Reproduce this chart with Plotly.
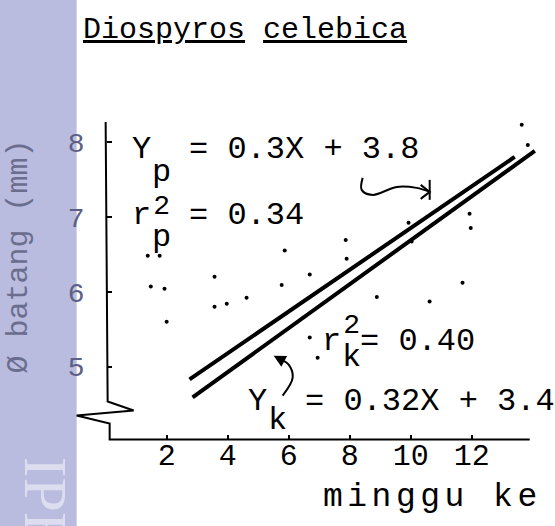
import plotly.graph_objects as go

# ---------------- data ----------------
weeks_x = [1.38, 1.77, 1.48, 1.93, 2.0, 3.57, 3.57, 3.97, 4.62, 5.77, 5.87, 6.69, 6.69,
           6.95, 7.87, 7.9, 8.89, 9.93, 10.03, 10.62, 11.7, 11.93, 11.97, 13.64, 13.84]
diam_y = [6.48, 6.48, 6.07, 6.04, 5.6, 6.2, 5.8, 5.84, 5.92, 6.09, 6.55, 6.23, 5.39,
          5.12, 6.69, 6.44, 5.93, 6.92, 6.67, 5.87, 6.12, 7.04, 6.85, 8.23, 7.96]

fit_p_x = [2.75, 13.41]
fit_p_y = [4.83, 7.80]
fit_k_x = [2.85, 14.07]
fit_k_y = [4.59, 7.88]

x_ticks = [2, 4, 6, 8, 10, 12]
y_ticks = [5, 6, 7, 8]

title_text = "<u>Diospyros</u> <u>celebica</u>"
y_title = "Ø batang (mm)"
x_title = "minggu ke"

# ---------------- layout geometry ----------------
W, H = 555, 526
XR = [-1.3, 14.6]
YR = [3.9, 8.4]
ML, MT = 66.35, 112.0
PW, PH = 484.95, 337.5
MR = W - ML - PW
MB = H - MT - PH
PITCH = 19.2  # Liberation Mono advance at 32px


def paper(px, py):
    return (px - ML) / PW, (MT + PH - py) / PH


def data(px, py):
    return (XR[0] + (px - ML) / PW * (XR[1] - XR[0]),
            YR[1] - (py - MT) / PH * (YR[1] - YR[0]))


def pts(lst):
    d = [data(a, b) for a, b in lst]
    return [p[0] for p in d], [p[1] for p in d]


MONO = "Liberation Mono"
fig = go.Figure()

# broken y axis + x axis line (drawn as decoration)
ax_x, ax_y = pts([(106, 122), (108, 402), (134, 411), (77, 416), (110, 424), (110, 440), (530, 440)])
fig.add_trace(go.Scatter(x=ax_x, y=ax_y, mode="lines", line=dict(color="black", width=2),
                         hoverinfo="skip", showlegend=False))

# regression lines
fig.add_trace(go.Scatter(x=fit_p_x, y=fit_p_y, mode="lines", line=dict(color="black", width=4),
                         showlegend=False))
fig.add_trace(go.Scatter(x=fit_k_x, y=fit_k_y, mode="lines", line=dict(color="black", width=4),
                         showlegend=False))

# scattered observations
fig.add_trace(go.Scatter(x=weeks_x, y=diam_y, mode="markers",
                         marker=dict(color="black", size=4), showlegend=False))

# curved arrows
a1x, a1y = pts([(363, 178), (362, 190), (373, 195), (397, 187), (417, 188), (430, 192)])
fig.add_trace(go.Scatter(x=a1x, y=a1y, mode="lines", line=dict(color="black", width=2, shape="spline"),
                         hoverinfo="skip", showlegend=False))
h1x, h1y = pts([(421, 185), (430, 192), (421, 199)])
fig.add_trace(go.Scatter(x=h1x, y=h1y, mode="lines", line=dict(color="black", width=2),
                         hoverinfo="skip", showlegend=False))
b1x, b1y = pts([(430, 180), (430, 200)])
fig.add_trace(go.Scatter(x=b1x, y=b1y, mode="lines", line=dict(color="black", width=2),
                         hoverinfo="skip", showlegend=False))
a2x, a2y = pts([(283, 396), (293, 378), (289, 365), (281, 360)])
fig.add_trace(go.Scatter(x=a2x, y=a2y, mode="lines", line=dict(color="black", width=2, shape="spline"),
                         hoverinfo="skip", showlegend=False))

tip = data(274, 356)
tail = data(285, 362)

annotations = []


def txt(text, px, py, size=32, anchor="left", color="black", angle=0, family=MONO):
    x, y = paper(px, py)
    annotations.append(dict(text=text, x=x, y=y, xref="paper", yref="paper", showarrow=False,
                            xanchor=anchor, yanchor="middle", textangle=angle, borderpad=0,
                            font=dict(family=family, size=size, color=color)))


def span(t, s):
    return "<span style='font-size:%dpx'>%s</span>" % (s, t)


annotations.append(dict(x=tip[0], y=tip[1], ax=tail[0], ay=tail[1], xref="x", yref="y",
                        axref="x", ayref="y", text="", showarrow=True, arrowhead=2,
                        arrowsize=1.2, arrowwidth=2, arrowcolor="black"))

txt(title_text, 82, 30, size=30)

# Y_p = 0.3X + 3.8  and  r_p^2 = 0.34 (sub/superscripts typed in one column)
x0 = 131
txt("Y", x0, 150)
txt("= 0.3X + 3.8", x0 + 3 * PITCH, 150)
txt("r", x0, 216)
txt("= 0.34", x0 + 3 * PITCH, 216)
txt(span("p", 32) + "<br>" + span("2", 28) + "<br>" + span("p", 32), x0 + PITCH + 1, 205, size=25)
# r_k^2 = 0.40
x1 = 321
txt("r", x1, 342)
txt(span("2", 28) + "<br>" + span("k", 32), x1 + PITCH + 1, 343, size=25)
txt("= 0.40", x1 + 2 * PITCH, 342)
# Y_k = 0.32X + 3.4
x2 = 247
txt("Y", x2, 402)
txt("k", x2 + PITCH + 1, 421)
txt("= 0.32X + 3.4", x2 + 3 * PITCH, 402)

txt("<span style='letter-spacing:4.5px'>%s</span>" % x_title, 433, 498, size=33, anchor="center")
txt(y_title, 19, 257, size=30, anchor="center", color="#6b6d8f", angle=-90)
txt("IPB", 46, 505, size=62, anchor="center", color="#dcdef0", angle=90, family="Liberation Serif")

fig.update_layout(
    width=W, height=H,
    margin=dict(l=ML, r=MR, t=MT, b=MB, autoexpand=False),
    paper_bgcolor="white", plot_bgcolor="rgba(0,0,0,0)",
    showlegend=False,
    annotations=annotations,
    shapes=[dict(type="rect", xref="paper", yref="paper", x0=-0.5, x1=paper(77, 0)[0],
                 y0=-0.5, y1=1.6, fillcolor="#b9bcde", line=dict(width=0), layer="below")],
    xaxis=dict(range=XR, showgrid=False, zeroline=False, showline=False,
               tickvals=x_ticks, ticks="inside", ticklen=5, tickwidth=2, tickcolor="black",
               tickfont=dict(family=MONO, size=30, color="black"), ticklabelstandoff=-6,
               anchor="free", position=paper(0, 440)[1], domain=[0, 1]),
    yaxis=dict(range=YR, showgrid=False, zeroline=False, showline=False,
               tickvals=y_ticks, ticks="inside", ticklen=5, tickwidth=2, tickcolor="black",
               tickfont=dict(family=MONO, size=28, color="#5d5f85"),
               anchor="free", position=paper(106, 0)[0], ticklabelstandoff=21, domain=[0, 1]),
)

fig.write_html("out.html")
